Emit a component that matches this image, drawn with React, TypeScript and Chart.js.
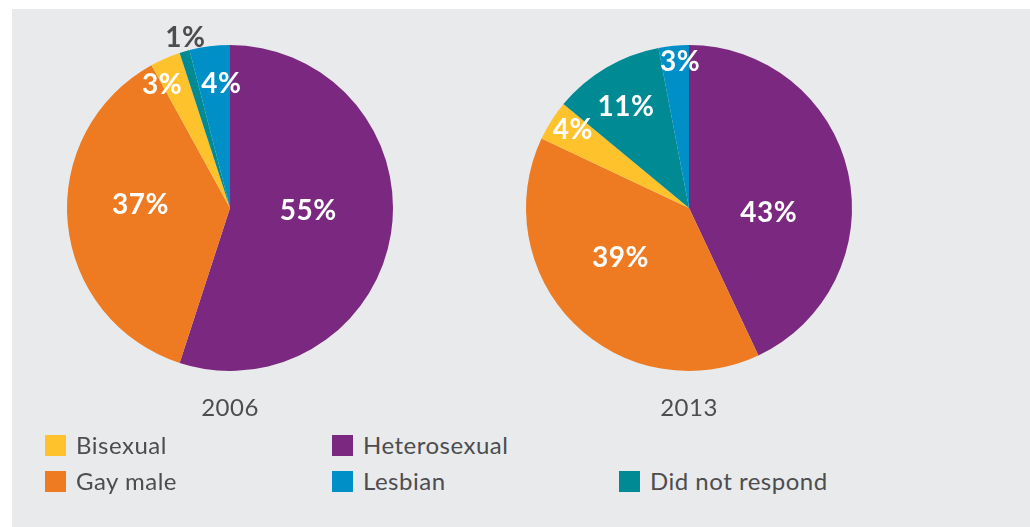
import React, { useEffect, useRef } from "react";
import { Chart, registerables } from "chart.js";

Chart.register(...registerables);

const categories = ["Heterosexual", "Gay male", "Bisexual", "Did not respond", "Lesbian"];
const values2006 = [55, 37, 3, 1, 4];
const values2013 = [43, 39, 4, 11, 3];
const years = ["2006", "2013"];
const sliceColors = ["#7b2880", "#ee7a22", "#fec22d", "#008a93", "#008fc6"];

const legendItems = [
  { label: "Bisexual", color: "#fec22d", left: 45, top: 434 },
  { label: "Heterosexual", color: "#7b2880", left: 332, top: 434 },
  { label: "Gay male", color: "#ee7a22", left: 45, top: 470 },
  { label: "Lesbian", color: "#008fc6", left: 332, top: 470 },
  { label: "Did not respond", color: "#008a93", left: 619, top: 470 },
];

type LabelCfg = { frac: number[]; offset: number[]; colors: string[] };

const labelPlugin = {
  id: "sliceLabels",
  afterDatasetsDraw(chart: any, _args: any, opts: LabelCfg) {
    const ctx = chart.ctx;
    const meta = chart.getDatasetMeta(0);
    const data = chart.data.datasets[0].data as number[];
    ctx.save();
    ctx.font = "bold 28px Lato, 'Noto Sans', sans-serif";
    try {
      (ctx as any).letterSpacing = "0.5px";
    } catch (e) {}
    ctx.textAlign = "center";
    ctx.textBaseline = "middle";
    meta.data.forEach((arc: any, i: number) => {
      const a = (arc.startAngle + arc.endAngle) / 2 + ((opts.offset[i] || 0) * Math.PI) / 180;
      const r = arc.outerRadius * opts.frac[i];
      ctx.fillStyle = opts.colors[i];
      ctx.fillText(data[i] + "%", arc.x + Math.cos(a) * r, arc.y + Math.sin(a) * r);
    });
    ctx.restore();
  },
};

function Pie({ values, left, label }: { values: number[]; left: number; label: LabelCfg }) {
  const ref = useRef<HTMLCanvasElement>(null);
  useEffect(() => {
    const chart = new Chart(ref.current!, {
      type: "pie",
      data: {
        labels: categories,
        datasets: [{ data: values, backgroundColor: sliceColors, borderWidth: 0 }],
      },
      options: {
        animation: false,
        responsive: false,
        layout: { padding: 37 },
        plugins: {
          legend: { display: false },
          tooltip: { enabled: false },
          sliceLabels: label,
        } as any,
      },
      plugins: [labelPlugin],
    });
    return () => chart.destroy();
  }, []);
  return (
    <canvas
      ref={ref}
      width={400}
      height={400}
      style={{ position: "absolute", left, top: 8, width: 400, height: 400 }}
    />
  );
}

export default function App() {
  useEffect(() => {
    document.body.style.margin = "0";
  }, []);
  const font = "Lato, 'Noto Sans', sans-serif";
  return (
    <div style={{ position: "relative", width: 1030, height: 527, background: "#ffffff", overflow: "hidden", fontFamily: font }}>
      <div style={{ position: "absolute", left: 12, top: 9, width: 1018, height: 518, background: "#e9eaec" }} />
      <Pie
        values={values2006}
        left={30}
        label={{
          frac: [0.48, 0.55, 0.86, 1.08, 0.76],
          offset: [-7, 7.4, -5.6, 1.5, 3.2],
          colors: ["#fff", "#fff", "#fff", "#4d4d4f", "#fff"],
        }}
      />
      <Pie
        values={values2013}
        left={489}
        label={{
          frac: [0.49, 0.52, 0.86, 0.73, 0.9],
          offset: [16, 9, 1.6, -1.4, 1.9],
          colors: ["#fff", "#fff", "#fff", "#fff", "#fff"],
        }}
      />
      {years.map((y, i) => (
        <div
          key={y}
          style={{
            position: "absolute",
            left: i === 0 ? 180 : 639,
            width: 100,
            top: 392,
            textAlign: "center",
            fontSize: 24,
            letterSpacing: "0.5px",
            color: "#4d4d4f",
            lineHeight: "30px",
          }}
        >
          {y}
        </div>
      ))}
      {legendItems.map((it) => (
        <div key={it.label} style={{ position: "absolute", left: it.left, top: it.top, height: 22, display: "flex", alignItems: "center" }}>
          <div style={{ width: 21, height: 21, background: it.color }} />
          <div style={{ marginLeft: 10, fontSize: 24, letterSpacing: "0.5px", color: "#4d4d4f", lineHeight: "22px", whiteSpace: "nowrap" }}>{it.label}</div>
        </div>
      ))}
    </div>
  );
}
